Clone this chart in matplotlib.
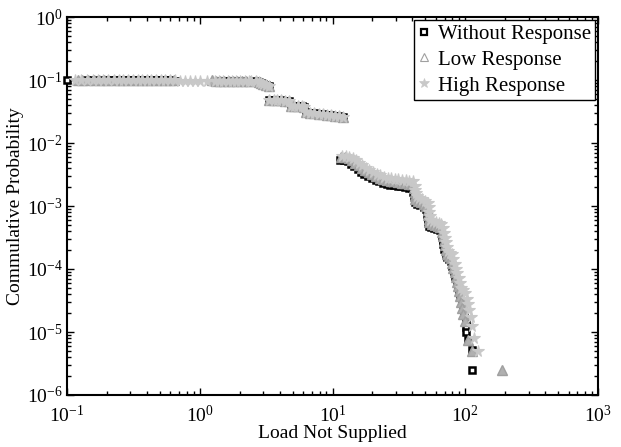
import matplotlib
matplotlib.use("Agg")
import matplotlib.pyplot as plt
from matplotlib.lines import Line2D

plt.rcParams['font.family'] = ['Liberation Serif', 'DejaVu Serif']
plt.rcParams['mathtext.fontset'] = 'custom'
plt.rcParams['mathtext.rm'] = 'Liberation Serif'
plt.rcParams['mathtext.it'] = 'Liberation Serif:italic'
plt.rcParams['mathtext.bf'] = 'Liberation Serif:bold'
plt.rcParams['axes.unicode_minus'] = False

# ---------------- data ----------------
series_labels = ["Without Response", "Low Response", "High Response"]

without_x = [0.10, 0.14, 0.152, 0.165, 0.18, 0.195, 0.21, 0.23, 0.25, 0.27, 0.295, 0.32, 0.345, 0.37,
             0.40, 0.435, 0.47, 0.51, 0.555, 0.60, 0.65,
             1.40, 1.52, 1.65, 1.80, 1.95, 2.10,
             2.66, 2.78, 2.90, 3.02, 3.15, 3.30,
             3.35, 3.60, 3.85, 4.10, 4.40, 4.70,
             4.85, 5.15, 5.50, 5.85, 6.10,
             6.3, 6.8, 7.3, 7.9, 8.5, 9.1, 9.8, 10.5, 11.2, 12.0,
             11.4, 12.2, 13.0, 13.8, 14.6, 15.5, 16.4, 17.4, 18.5, 19.8, 21.1, 22.5, 24.0, 25.6, 27.3,
             29.1, 31.0, 33.0, 35.2, 37.5, 39.8,
             40.5, 41.0, 41.5, 41.5, 43.5, 46.0, 48.5, 50.5,
             51.5, 52.0, 52.5, 53.0, 55.5, 58.5, 61.5, 64.5,
             66.5, 67.5, 68.5, 69.5, 71.0, 72.5, 75.0, 77.5,
             80, 82, 84, 86, 88, 90, 92, 94, 96,
             98, 101, 101, 101, 104, 113, 113]
without_p = [0.100, 0.100, 0.100, 0.0998, 0.0997, 0.0996, 0.0995, 0.0994, 0.0993, 0.0992, 0.0991, 0.099, 0.0989, 0.0988,
             0.0987, 0.0986, 0.0985, 0.0984, 0.0983, 0.0982, 0.098,
             0.097, 0.0968, 0.0966, 0.0964, 0.0962, 0.096,
             0.097, 0.093, 0.089, 0.085, 0.082, 0.079,
             0.049, 0.0485, 0.048, 0.0475, 0.047, 0.0465,
             0.039, 0.0387, 0.0383, 0.038, 0.0375,
             0.0305, 0.030, 0.0295, 0.029, 0.0285, 0.028, 0.0275, 0.027, 0.0265, 0.026,
             5.3e-3, 5.3e-3, 5.1e-3, 4.7e-3, 4.3e-3, 3.9e-3, 3.5e-3, 3.2e-3, 3.0e-3, 2.8e-3, 2.6e-3, 2.45e-3, 2.3e-3, 2.22e-3, 2.17e-3,
             2.12e-3, 2.08e-3, 2.04e-3, 2.0e-3, 1.96e-3, 1.92e-3,
             1.65e-3, 1.45e-3, 1.28e-3, 1.15e-3, 1.08e-3, 1.02e-3, 0.96e-3, 0.90e-3,
             7.5e-4, 6.3e-4, 5.4e-4, 4.8e-4, 4.6e-4, 4.4e-4, 4.25e-4, 4.1e-4,
             3.4e-4, 2.9e-4, 2.45e-4, 2.1e-4, 1.75e-4, 1.55e-4, 1.42e-4, 1.33e-4,
             1.1e-4, 9.3e-5, 7.8e-5, 6.5e-5, 5.4e-5, 4.5e-5, 3.7e-5, 3.0e-5, 2.4e-5,
             2.0e-5, 1.45e-5, 1.2e-5, 1.0e-5, 7.4e-6, 5.1e-6, 2.5e-6]

low_x = [0.12, 0.13, 0.145, 0.16, 0.175, 0.19, 0.205, 0.225, 0.245, 0.265, 0.29, 0.315, 0.34, 0.365,
         0.40, 0.43, 0.47, 0.51, 0.55, 0.60, 0.64,
         1.23, 1.32, 1.42, 1.53, 1.65, 1.78, 1.92, 2.07, 2.23, 2.40,
         2.66, 2.78, 2.90, 3.02, 3.15, 3.30,
         3.35, 3.60, 3.85, 4.10, 4.40, 4.70,
         4.85, 5.15, 5.50, 5.85, 6.10,
         6.3, 6.8, 7.3, 7.9, 8.5, 9.1, 9.8, 10.5, 11.2, 12.0,
         11.6, 12.4, 13.2, 14.0, 14.8, 15.7, 16.6, 17.6, 18.7, 20.0, 21.3, 22.7, 24.2, 25.8, 27.5,
         29.3, 31.2, 33.2, 35.4, 37.7, 40.0,
         41.0, 41.5, 42.0, 42.0, 44.0, 46.5, 49.0, 51.0,
         52.0, 52.5, 53.0, 53.5, 56.0, 59.0, 62.0, 65.0,
         67.0, 68.0, 69.0, 70.0, 71.5, 73.0, 75.5, 78.0,
         80, 81.5, 83, 84.5, 86, 87.5, 89, 91, 93, 95,
         97, 99, 104, 113, 188]
low_p = [0.100, 0.100, 0.100, 0.0999, 0.0998, 0.0997, 0.0996, 0.0995, 0.0994, 0.0993, 0.0992, 0.0991, 0.099, 0.0989,
         0.0988, 0.0987, 0.0986, 0.0985, 0.0984, 0.0983, 0.0982,
         0.0985, 0.098, 0.0978, 0.0976, 0.0974, 0.0972, 0.097, 0.0968, 0.0966, 0.0964,
         0.097, 0.093, 0.089, 0.085, 0.082, 0.079,
         0.049, 0.0485, 0.048, 0.0475, 0.047, 0.0465,
         0.039, 0.0387, 0.0383, 0.038, 0.0375,
         0.0305, 0.030, 0.0295, 0.029, 0.0285, 0.028, 0.0275, 0.027, 0.0265, 0.026,
         5.9e-3, 6.0e-3, 5.8e-3, 5.4e-3, 4.9e-3, 4.4e-3, 4.0e-3, 3.7e-3, 3.45e-3, 3.2e-3, 3.0e-3, 2.8e-3, 2.65e-3, 2.55e-3, 2.5e-3,
         2.45e-3, 2.4e-3, 2.35e-3, 2.3e-3, 2.25e-3, 2.2e-3,
         1.9e-3, 1.65e-3, 1.45e-3, 1.3e-3, 1.22e-3, 1.15e-3, 1.08e-3, 1.0e-3,
         8.5e-4, 7.2e-4, 6.2e-4, 5.5e-4, 5.2e-4, 5.0e-4, 4.8e-4, 4.6e-4,
         3.9e-4, 3.3e-4, 2.8e-4, 2.4e-4, 2.0e-4, 1.75e-4, 1.6e-4, 1.5e-4,
         1.25e-4, 1.05e-4, 9.0e-5, 7.5e-5, 6.3e-5, 5.3e-5, 4.5e-5, 3.7e-5, 3.0e-5, 2.4e-5,
         1.9e-5, 1.5e-5, 7.5e-6, 5.0e-6, 2.5e-6]

high_x = [0.115, 0.128, 0.142, 0.157, 0.172, 0.188, 0.205, 0.225, 0.245, 0.265, 0.29, 0.315, 0.34, 0.365,
          0.40, 0.43, 0.47, 0.51, 0.55, 0.60, 0.65, 0.71, 0.77, 0.84, 0.92, 1.0, 1.13,
          1.30, 1.40, 1.50, 1.62, 1.75, 1.88, 2.02, 2.18, 2.35, 2.45,
          2.66, 2.78, 2.90, 3.02, 3.15, 3.30,
          3.35, 3.60, 3.85, 4.10, 4.40, 4.70,
          4.85, 5.15, 5.50, 5.85, 6.10,
          6.3, 6.8, 7.3, 7.9, 8.5, 9.1, 9.8, 10.5, 11.2, 12.0,
          11.8, 12.6, 13.4, 14.2, 15.0, 15.9, 16.8, 17.8, 18.9, 20.2, 21.5, 22.9, 24.4, 26.0, 27.7,
          29.5, 31.4, 33.4, 35.6, 37.9, 40.3,
          41.5, 42.0, 42.5, 43.0, 45.0, 47.5, 50.0, 52.0,
          53.0, 53.5, 54.0, 54.5, 57.0, 60.0, 63.0, 66.0,
          68.0, 69.0, 70.0, 71.0, 72.5, 74.0, 76.5, 79.0,
          81, 83, 85, 87, 89, 91, 93.5, 96,
          100, 103, 105, 107, 110, 113, 117, 124]
high_p = [0.100, 0.100, 0.100, 0.0999, 0.0998, 0.0997, 0.0996, 0.0995, 0.0994, 0.0993, 0.0992, 0.0991, 0.099, 0.0989,
          0.0988, 0.0987, 0.0986, 0.0985, 0.0984, 0.0983, 0.0982, 0.098, 0.0979, 0.0978, 0.0977, 0.0976, 0.0975,
          0.098, 0.0978, 0.0976, 0.0974, 0.0972, 0.097, 0.0968, 0.0966, 0.0964, 0.0962,
          0.097, 0.093, 0.089, 0.085, 0.082, 0.079,
          0.049, 0.0485, 0.048, 0.0475, 0.047, 0.0465,
          0.039, 0.0387, 0.0383, 0.038, 0.0375,
          0.0305, 0.030, 0.0295, 0.029, 0.0285, 0.028, 0.0275, 0.027, 0.0265, 0.026,
          6.3e-3, 6.3e-3, 6.1e-3, 5.8e-3, 5.3e-3, 4.8e-3, 4.4e-3, 4.0e-3, 3.7e-3, 3.45e-3, 3.25e-3, 3.05e-3, 2.9e-3, 2.8e-3, 2.75e-3,
          2.7e-3, 2.65e-3, 2.6e-3, 2.55e-3, 2.5e-3, 2.45e-3,
          2.1e-3, 1.8e-3, 1.6e-3, 1.42e-3, 1.35e-3, 1.27e-3, 1.2e-3, 1.12e-3,
          9.5e-4, 8.0e-4, 6.9e-4, 6.1e-4, 5.8e-4, 5.6e-4, 5.4e-4, 5.2e-4,
          4.4e-4, 3.7e-4, 3.1e-4, 2.7e-4, 2.25e-4, 1.95e-4, 1.8e-4, 1.7e-4,
          1.45e-4, 1.2e-4, 1.0e-4, 8.5e-5, 7.2e-5, 6.0e-5, 5.0e-5, 4.6e-5,
          4.2e-5, 3.4e-5, 2.8e-5, 2.2e-5, 1.7e-5, 1.25e-5, 8.0e-6, 5.0e-6]

# ---------------- figure ----------------
W, H = 621, 447
fig = plt.figure(figsize=(W / 100, H / 100), dpi=100)
ax = fig.add_axes([67 / W, 1 - 395 / H, (598 - 67) / W, (395 - 17) / H])

ax.plot(without_x, without_p, linestyle='none', marker='s', ms=4.8, mfc='white',
        mec='black', mew=1.8, clip_on=False, zorder=3)
ax.plot(low_x, low_p, linestyle='none', marker='^', ms=7.0, mfc='#b0b0b0',
        mec='#a0a0a0', mew=1.0, clip_on=False, zorder=4)
ax.plot(high_x, high_p, linestyle='none', marker='*', ms=8.5, mfc='#c8c8c8',
        mec='#c8c8c8', mew=0.8, clip_on=False, zorder=5)

ax.set_xscale('log')
ax.set_yscale('log')
ax.set_xlim(0.1, 1000)
ax.set_ylim(1e-6, 1)

for sp in ax.spines.values():
    sp.set_linewidth(1.5)
ax.tick_params(which='both', direction='in', top=True, right=True, labelsize=14, width=1.0)
ax.tick_params(which='major', length=5)
ax.tick_params(which='minor', length=3)
ax.tick_params(axis='x', pad=7)
ax.tick_params(axis='y', pad=3)

ax.set_xlabel("Load Not Supplied", fontsize=14, labelpad=-1)
ax.set_ylabel("Commulative Probability", fontsize=14, labelpad=2)

handles = [
    Line2D([], [], linestyle='none', marker='s', ms=4, mfc='white', mec='black', mew=1.6),
    Line2D([], [], linestyle='none', marker='^', ms=5.5, mfc='white', mec='#a0a0a0', mew=0.8),
    Line2D([], [], linestyle='none', marker='*', ms=7, mfc='#c8c8c8', mec='#c8c8c8', mew=0.5),
]
leg = ax.legend(handles, series_labels, loc='upper right', fontsize=15, frameon=True,
                fancybox=False, edgecolor='black', framealpha=1, borderaxespad=0.15,
                borderpad=0.2, labelspacing=0.3, handlelength=0.6, handletextpad=0.35)
leg.get_frame().set_linewidth(1.0)

fig.savefig("out.png", dpi=100)
